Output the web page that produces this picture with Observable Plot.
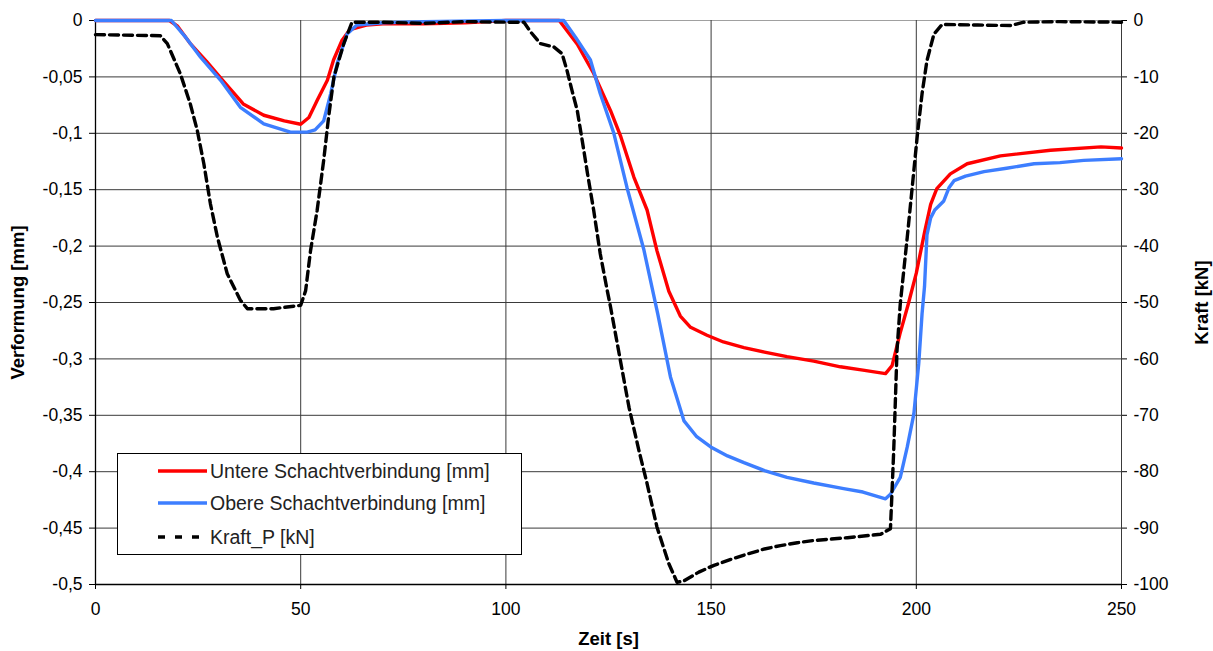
<!DOCTYPE html>
<html>
<head>
<meta charset="utf-8">
<script src="https://cdn.jsdelivr.net/npm/d3@7"></script>
<script src="https://cdn.jsdelivr.net/npm/@observablehq/plot@0.6"></script>
<style>
  body { margin: 0; background: #fff; font-family: "Liberation Sans", Arial, sans-serif; }
  #wrap { position: relative; width: 1213px; height: 651px; }
  #legend { position: absolute; left: 117px; top: 453px; width: 405px; height: 102px;
            border: 1px solid #000; background: #fff; box-sizing: border-box; }
  .row { position: absolute; left: 0; height: 30px; display: flex; align-items: center;
         font-size: 19.5px; color: #222; white-space: nowrap; }
  .row svg { margin-left: 40px; margin-right: 3px; }
</style>
</head>
<body>
<div id="wrap">
  <div id="chart"></div>
  <div id="legend"></div>
</div>
<script>
// ---- data ----
const timeUntere = [0,18,20,23,27,31,36,41,46,50,52,54,56.5,58,60,62,66,70,80,90,100,113,117.4,121.4,125.5,128,131.2,134.4,136.8,139.7,142.5,145,149,153,158,163,168.5,175,181.5,187,192.5,194.1,196,198,200,202,203.5,205,208.3,212.4,220.5,232.7,245,250];
const untere     = [0,0,-0.005,-0.02,-0.036,-0.053,-0.074,-0.084,-0.089,-0.092,-0.086,-0.071,-0.053,-0.035,-0.018,-0.008,-0.004,-0.003,-0.003,-0.002,0,0,-0.021,-0.047,-0.08,-0.103,-0.139,-0.168,-0.204,-0.24,-0.262,-0.272,-0.279,-0.285,-0.29,-0.294,-0.298,-0.302,-0.307,-0.31,-0.313,-0.306,-0.278,-0.252,-0.224,-0.188,-0.163,-0.149,-0.136,-0.127,-0.12,-0.115,-0.112,-0.113];

const timeObere = [0,18.5,22,25.6,30.5,35.3,41,47.5,51.6,53.5,55.6,57.3,58.9,61.3,63.7,70,80,100,114.1,117,120.6,123,126.3,129.5,133.6,137,140.1,143.4,146.5,149.9,154,158,163,168.5,175,182.3,187,192.5,193.7,196.1,197.8,199.4,200.6,201.4,202,202.6,203.5,204.5,206.7,208,209.2,212,216.5,222,228.7,235,240.8,250];
const obere     = [0,0,-0.015,-0.0325,-0.053,-0.077,-0.0916,-0.099,-0.099,-0.097,-0.089,-0.065,-0.038,-0.012,-0.004,-0.002,-0.001,0,0,-0.015,-0.035,-0.065,-0.1,-0.148,-0.203,-0.26,-0.316,-0.355,-0.369,-0.378,-0.386,-0.392,-0.399,-0.405,-0.41,-0.415,-0.418,-0.424,-0.42,-0.405,-0.378,-0.349,-0.304,-0.26,-0.236,-0.19,-0.175,-0.168,-0.16,-0.148,-0.142,-0.138,-0.134,-0.131,-0.127,-0.126,-0.124,-0.1226];

const timeKraft = [0,15.8,17.5,20.7,23.1,24.8,26.4,28,29.7,32.1,35.3,37,43.4,50,51.2,52.4,54,55.6,56.8,58.1,60.5,62.5,70,80,90,100,104.4,106,108.4,111.7,113.7,114.9,116.1,117.4,118.6,119.9,121.4,123,124.7,125.5,127.9,130,132.4,134.4,136.8,139.7,141.7,143.3,147,150.7,155,158.8,163,166.9,171,175,183.2,191.3,193.7,194,194.5,194.9,195.3,196.1,197.8,199,200.2,201.4,202.6,204.3,206.3,215,223,226.2,235,250];
const kraft     = [-2.5,-2.7,-4.1,-9.5,-14.8,-19.5,-25.4,-32.5,-38.4,-44.9,-49.6,-51.1,-51.1,-50.5,-47.9,-40.8,-33.7,-24.8,-17.1,-10,-4.1,-0.3,-0.3,-0.5,-0.2,-0.3,-0.3,-2,-4.1,-4.7,-5.9,-8.9,-12.4,-16,-21.3,-27.2,-33.7,-41.4,-47.9,-50.8,-60.3,-68.6,-76.2,-82.1,-89.8,-96.3,-99.6,-99.4,-97.8,-96.6,-95.5,-94.6,-93.7,-93.1,-92.6,-92.2,-91.7,-91.1,-90.1,-85,-76.2,-67.4,-58.5,-50.2,-38.4,-29.6,-20.7,-13,-7.1,-2.4,-0.7,-0.8,-0.9,-0.3,-0.2,-0.3];

const xTicks = [0,50,100,150,200,250];
const yTicks = [0,-0.05,-0.1,-0.15,-0.2,-0.25,-0.3,-0.35,-0.4,-0.45,-0.5];
const kTicks = [0,-10,-20,-30,-40,-50,-60,-70,-80,-90,-100];
const seriesNames = ["Untere Schachtverbindung [mm]", "Obere Schachtverbindung [mm]", "Kraft_P [kN]"];
const seriesColors = ["#ff0000", "#3d7eff", "#000000"];
const titles = { x: "Zeit [s]", yLeft: "Verformung [mm]", yRight: "Kraft [kN]" };

// ---- build ----
const kScale = 200; // -100 kN  <->  -0.5 mm on the shared vertical scale
const rowsU = timeUntere.map((t, i) => ({t, v: untere[i]}));
const rowsO = timeObere.map((t, i) => ({t, v: obere[i]}));
const rowsK = timeKraft.map((t, i) => ({t, k: kraft[i]}));
const fmtDe = d => String(+d.toFixed(2)).replace(".", ",");
const font = "'Liberation Sans', Arial, sans-serif";

const chart = Plot.plot({
  width: 1213, height: 651,
  marginLeft: 95, marginRight: 92, marginTop: 20, marginBottom: 67,
  x: {domain: [0, 250]},
  y: {domain: [-0.5, 0]},
  style: {fontFamily: font, fontSize: "17.5px", color: "#000", background: "#fff"},
  marks: [
    Plot.ruleY(yTicks.filter(d => d !== 0), {stroke: "#3a3a3a", strokeWidth: 1}),
    Plot.ruleY([0], {stroke: "#a0a0a0", strokeWidth: 1}),
    Plot.ruleX(xTicks, {stroke: "#3a3a3a", strokeWidth: 1}),
    Plot.ruleX([0], {stroke: "#000", strokeWidth: 1.3}),
    Plot.ruleY([-0.5], {stroke: "#000", strokeWidth: 1.3}),
    Plot.axisX(xTicks, {anchor: "bottom", tickSize: 5, tickPadding: 13, label: null, tickFormat: d => String(d)}),
    Plot.axisY(yTicks, {anchor: "left", tickSize: 6, tickPadding: 7, label: null, tickFormat: fmtDe}),
    Plot.axisY(kTicks.map(k => k / kScale), {anchor: "right", tickSize: 5, tickPadding: 7, label: null,
      tickFormat: d => String(Math.round(d * kScale))}),
    Plot.line(rowsU, {x: "t", y: "v", stroke: seriesColors[0], strokeWidth: 3.4}),
    Plot.line(rowsO, {x: "t", y: "v", stroke: seriesColors[1], strokeWidth: 3.4}),
    Plot.line(rowsK, {x: "t", y: d => d.k / kScale, stroke: seriesColors[2], strokeWidth: 3.4,
      strokeDasharray: "9,5"}),
    Plot.text([titles.yLeft], {frameAnchor: "left", dx: -77, rotate: -90, textAnchor: "middle",
      lineAnchor: "middle", fontWeight: "bold", fontSize: 18.5, fill: "#000"}),
    Plot.text([titles.yRight], {frameAnchor: "right", dx: 81, rotate: -90, textAnchor: "middle",
      lineAnchor: "middle", fontWeight: "bold", fontSize: 18.5, fill: "#000"}),
    Plot.text([titles.x], {frameAnchor: "bottom", dy: 55, textAnchor: "middle",
      lineAnchor: "middle", fontWeight: "bold", fontSize: 18.5, fill: "#000"})
  ]
});
document.getElementById("chart").appendChild(chart);

// legend (inside the plot area, like the reference)
const legend = document.getElementById("legend");
const rowTops = [2, 34, 68];
seriesNames.forEach((name, i) => {
  const row = document.createElement("div");
  row.className = "row";
  row.style.top = rowTops[i] + "px";
  const dash = i === 2 ? 'stroke-dasharray="7,10"' : "";
  row.innerHTML = `<svg width="49" height="8"><line x1="0" y1="4" x2="49" y2="4" stroke="${seriesColors[i]}" stroke-width="3.4" ${dash}/></svg><span>${name}</span>`;
  legend.appendChild(row);
});
</script>
</body>
</html>
